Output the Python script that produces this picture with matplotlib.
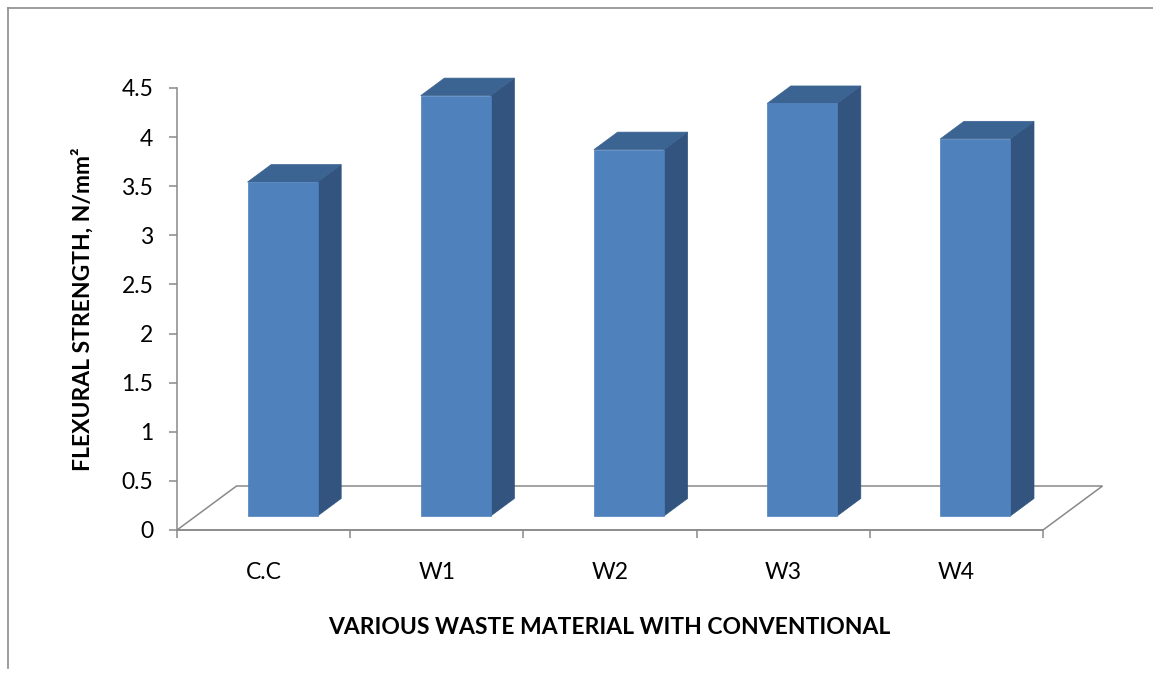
import matplotlib
matplotlib.use("Agg")
import matplotlib.pyplot as plt
from matplotlib.patches import Polygon
from matplotlib.lines import Line2D

# ---- data ----
categories = ["C.C", "W1", "W2", "W3", "W4"]
flexural_strength = [3.40, 4.28, 3.73, 4.20, 3.84]
y_ticks = [0, 0.5, 1, 1.5, 2, 2.5, 3, 3.5, 4, 4.5]
y_tick_labels = ["0", "0.5", "1", "1.5", "2", "2.5", "3", "3.5", "4", "4.5"]

plt.rcParams['font.family'] = ['Lato', 'DejaVu Sans']

W, H, DPI = 1153, 673, 100
fig = plt.figure(figsize=(W / DPI, H / DPI), dpi=DPI)
fig.patch.set_facecolor("white")

# plot area (pixels)
left, right, bottom, top = 177, 1043, 530, 88
ymax = 4.5
ax = fig.add_axes([left / W, 1 - bottom / H, (right - left) / W, (bottom - top) / H])
ax.set_xlim(0, len(categories))
ax.set_ylim(0, ymax)
ax.set_facecolor("none")

# oblique projection of the floor depth, in data units
px_per_cat = (right - left) / len(categories)
px_per_val = (bottom - top) / ymax
depth_dx = 59.5 / px_per_cat
depth_dy = 44.0 / px_per_val

grey = "#898989"
front_col = "#4F81BD"
side_col = "#32547F"
top_col = "#3C6492"

# floor outline
n = len(categories)
floor = Polygon([(0, 0), (n, 0), (n + depth_dx, depth_dy), (depth_dx, depth_dy)],
                closed=True, fill=False, edgecolor=grey, linewidth=1.1,
                clip_on=False, zorder=1)
ax.add_patch(floor)

# 3D columns
f0, f1 = 0.318, 0.716      # front / back depth fractions of each column
bar_w = 0.404
for i, v in enumerate(flexural_strength):
    xc = i + 0.5 + f0 * depth_dx
    x0, x1 = xc - bar_w / 2, xc + bar_w / 2
    yb = f0 * depth_dy
    ox = (f1 - f0) * depth_dx
    oy = (f1 - f0) * depth_dy
    yt = yb + v
    side = [(x1, yb), (x1 + ox, yb + oy), (x1 + ox, yt + oy), (x1, yt)]
    topf = [(x0, yt), (x1, yt), (x1 + ox, yt + oy), (x0 + ox, yt + oy)]
    front = [(x0, yb), (x1, yb), (x1, yt), (x0, yt)]
    for pts, col in ((side, side_col), (topf, top_col), (front, front_col)):
        ax.add_patch(Polygon(pts, closed=True, facecolor=col, edgecolor=col,
                             linewidth=0.5, clip_on=False, zorder=3))

# axes styling
for s in ("top", "right"):
    ax.spines[s].set_visible(False)
for s in ("left", "bottom"):
    ax.spines[s].set_color(grey)
    ax.spines[s].set_linewidth(1.1)
    ax.spines[s].set_zorder(2)

ax.set_yticks(y_ticks)
ax.set_yticklabels(y_tick_labels)
ax.tick_params(axis="y", direction="out", length=6, width=1.1, color=grey,
               pad=11, labelsize=16.5, labelcolor="black")

ax.set_xticks(range(n + 1))
ax.set_xticklabels([])
ax.tick_params(axis="x", which="major", direction="out", length=6, width=1.1, color=grey)
ax.set_xticks([i + 0.5 for i in range(n)], minor=True)
ax.set_xticklabels(categories, minor=True)
ax.tick_params(axis="x", which="minor", length=0, pad=23, labelsize=16.5, labelcolor="black")

# axis titles
fig.text(609 / W, 1 - 627 / H, "VARIOUS WASTE MATERIAL WITH CONVENTIONAL",
         ha="center", va="center", fontsize=16.5, fontweight="bold")
fig.text(83 / W, 1 - 309 / H, "FLEXURAL STRENGTH, N/mm²", rotation=90,
         ha="center", va="center", fontsize=16.5, fontweight="bold")

# chart border
fig.add_artist(Line2D([8 / W, 1.0], [1 - 8 / H, 1 - 8 / H], transform=fig.transFigure,
                      color="#8C8C8C", linewidth=1.2))
fig.add_artist(Line2D([8 / W, 8 / W], [1 - 8 / H, 1 - 668 / H], transform=fig.transFigure,
                      color="#8C8C8C", linewidth=1.2))

fig.savefig("out.png", dpi=DPI, facecolor="white")
